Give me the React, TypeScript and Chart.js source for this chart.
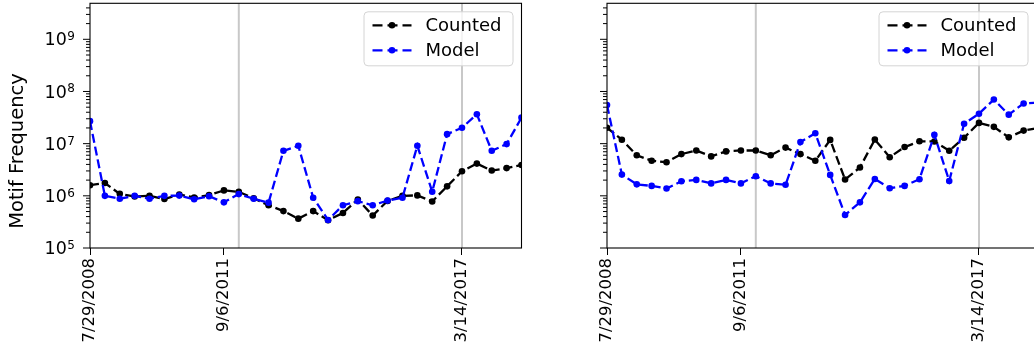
import React, { useEffect, useRef } from "react";
import { Chart, registerables } from "chart.js";

Chart.register(...registerables);

// ---- data ----
const xIndex = [0, 1, 2, 3, 4, 5, 6, 7, 8, 9, 10, 11, 12, 13, 14, 15, 16, 17, 18, 19, 20, 21, 22, 23, 24, 25, 26, 27, 28, 29];
const xTickValues = [0, 9, 25];
const xTickLabels = ["7/29/2008", "9/6/2011", "3/14/2017"];
const markerLines = [10, 25];
const yMin = 1e5;
const yMax = 4.9e9;
const seriesNames = ["Counted", "Model"];

const leftCounted = [1.6e6, 1.76e6, 1.09e6, 9.7e5, 1.0e6, 8.7e5, 1.06e6, 9.3e5, 1.03e6, 1.27e6, 1.19e6, 9.0e5, 6.6e5, 5.1e5, 3.65e5, 5.1e5, 3.4e5, 4.7e5, 8.5e5, 4.2e5, 8.0e5, 1.0e6, 1.02e6, 7.8e5, 1.52e6, 2.95e6, 4.15e6, 3.05e6, 3.4e6, 3.9e6];
const leftModel = [2.7e7, 1.0e6, 8.8e5, 1.0e6, 8.8e5, 1.0e6, 1.01e6, 8.6e5, 9.8e5, 7.5e5, 1.08e6, 8.8e5, 7.4e5, 7.3e6, 9.1e6, 9.2e5, 3.45e5, 6.6e5, 7.9e5, 6.6e5, 8.1e5, 9.2e5, 9.1e6, 1.2e6, 1.52e7, 2.02e7, 3.65e7, 7.3e6, 9.8e6, 3.15e7];
const rightCounted = [2.02e7, 1.19e7, 6.0e6, 4.7e6, 4.4e6, 6.3e6, 7.4e6, 5.7e6, 7.1e6, 7.4e6, 7.4e6, 6.0e6, 8.4e6, 6.3e6, 4.7e6, 1.18e7, 2.05e6, 3.5e6, 1.2e7, 5.5e6, 8.6e6, 1.11e7, 1.1e7, 7.3e6, 1.3e7, 2.5e7, 2.1e7, 1.32e7, 1.78e7, 2.0e7];
const rightModel = [5.5e7, 2.55e6, 1.66e6, 1.55e6, 1.38e6, 1.9e6, 2.02e6, 1.73e6, 2.02e6, 1.73e6, 2.38e6, 1.73e6, 1.63e6, 1.07e7, 1.58e7, 2.52e6, 4.3e5, 7.5e5, 2.1e6, 1.4e6, 1.55e6, 2.08e6, 1.48e7, 1.93e6, 2.4e7, 3.75e7, 7.0e7, 3.6e7, 5.9e7, 6.1e7];

const FONT = "'DejaVu Sans', 'Liberation Sans', sans-serif";
const CANVAS_W = 530;
const CANVAS_H = 354;
const PLOT_BOTTOM = 248;
const DASH = [9, 4];

const decorPlugin = {
  id: "decor",
  beforeDatasetsDraw(chart: any) {
    const { ctx, chartArea } = chart;
    const xs = chart.scales.x;
    ctx.save();
    ctx.strokeStyle = "#c8c8c8";
    ctx.lineWidth = 2;
    markerLines.forEach((v) => {
      const px = xs.getPixelForValue(v);
      ctx.beginPath();
      ctx.moveTo(px, chartArea.top);
      ctx.lineTo(px, chartArea.bottom);
      ctx.stroke();
    });
    ctx.restore();
  },
  afterDraw(chart: any, _args: any, opts: any) {
    const { ctx, chartArea } = chart;
    const ys = chart.scales.y;
    const { left, right, top, bottom } = chartArea;
    ctx.save();
    // axes box
    ctx.strokeStyle = "#000";
    ctx.lineWidth = 1.1;
    ctx.strokeRect(left, top, right - left, bottom - top);
    // y ticks (major + minor)
    ctx.lineWidth = 1;
    const eMin = Math.floor(Math.log10(ys.min));
    const eMax = Math.ceil(Math.log10(ys.max));
    for (let e = eMin; e <= eMax; e++) {
      for (let m = 1; m <= 9; m++) {
        const v = m * Math.pow(10, e);
        if (v < ys.min * 0.999 || v > ys.max * 1.001) continue;
        const py = ys.getPixelForValue(v);
        const len = m === 1 ? 7 : 4;
        ctx.beginPath();
        ctx.moveTo(left - len, py);
        ctx.lineTo(left, py);
        ctx.stroke();
        if (m === 1 && opts.showYLabels) {
          const expText = String(e);
          ctx.fillStyle = "#000";
          ctx.font = `12px ${FONT}`;
          const we = ctx.measureText(expText).width;
          const xEnd = left - 15;
          ctx.textAlign = "left";
          ctx.textBaseline = "alphabetic";
          ctx.fillText(expText, xEnd - we, py + 1);
          ctx.font = `17.5px ${FONT}`;
          ctx.textAlign = "right";
          ctx.textBaseline = "middle";
          ctx.fillText("10", xEnd - we - 0.5, py + 1.5);
        }
      }
    }
    // y title
    if (opts.title) {
      ctx.save();
      ctx.fillStyle = "#000";
      ctx.font = `19.5px ${FONT}`;
      ctx.textAlign = "center";
      ctx.textBaseline = "middle";
      ctx.translate(18, 151);
      ctx.rotate(-Math.PI / 2);
      ctx.fillText(opts.title, 0, 0);
      ctx.restore();
    }
    // legend
    const bw = 149;
    const bh = 54;
    const bx = right - opts.legendInset - bw;
    const by = top + 8;
    ctx.beginPath();
    if (ctx.roundRect) ctx.roundRect(bx + 0.5, by + 0.5, bw, bh, 4);
    else ctx.rect(bx + 0.5, by + 0.5, bw, bh);
    ctx.fillStyle = "rgba(255,255,255,0.8)";
    ctx.fill();
    ctx.strokeStyle = "#d4d4d4";
    ctx.lineWidth = 1;
    ctx.stroke();
    chart.data.datasets.forEach((ds: any, i: number) => {
      const cy = by + 14 + i * 25;
      const hx0 = bx + 9;
      const hx1 = bx + 48;
      ctx.strokeStyle = ds.borderColor;
      ctx.lineWidth = 2.2;
      ctx.setLineDash([10, 5]);
      ctx.beginPath();
      ctx.moveTo(hx0, cy);
      ctx.lineTo(hx1, cy);
      ctx.stroke();
      ctx.setLineDash([]);
      ctx.fillStyle = ds.borderColor;
      ctx.beginPath();
      ctx.arc((hx0 + hx1) / 2, cy, 3.3, 0, Math.PI * 2);
      ctx.fill();
      ctx.fillStyle = "#000";
      ctx.font = `18px ${FONT}`;
      ctx.textAlign = "left";
      ctx.textBaseline = "middle";
      ctx.fillText(ds.label, bx + 62, cy + 1);
    });
    ctx.restore();
  },
};

function makeConfig(counted: number[], model: number[], o: any): any {
  const mk = (label: string, vals: number[], color: string, order: number) => ({
    label,
    data: xIndex.map((x, i) => ({ x, y: vals[i] })),
    borderColor: color,
    backgroundColor: color,
    borderDash: DASH,
    borderWidth: 2.3,
    pointRadius: 3.3,
    pointBorderWidth: 0,
    pointHoverRadius: 3.3,
    pointBackgroundColor: color,
    tension: 0,
    order,
  });
  return {
    type: "line",
    data: {
      datasets: [
        mk(seriesNames[0], counted, "#000000", 1),
        mk(seriesNames[1], model, "#0000ff", 0),
      ],
    },
    plugins: [decorPlugin],
    options: {
      responsive: false,
      animation: false,
      events: [],
      layout: { padding: { top: 1.5, right: o.padRight, left: 0, bottom: 0 } },
      plugins: {
        legend: { display: false },
        tooltip: { enabled: false },
        decor: { showYLabels: o.showYLabels, title: o.title, legendInset: o.legendInset },
      },
      scales: {
        x: {
          type: "linear",
          min: 0,
          max: 29,
          afterBuildTicks: (s: any) => {
            s.ticks = xTickValues.map((v) => ({ value: v }));
          },
          afterFit: (s: any) => {
            s.height = CANVAS_H - PLOT_BOTTOM;
          },
          ticks: {
            autoSkip: false,
            maxRotation: 90,
            minRotation: 90,
            padding: 3,
            color: "#000",
            font: { family: FONT, size: 16.5 },
            callback: (v: any) => {
              const k = xTickValues.indexOf(Number(v));
              return k >= 0 ? xTickLabels[k] : "";
            },
          },
          grid: { drawOnChartArea: false, drawTicks: true, tickLength: 7, tickColor: "#000", color: "#000", tickWidth: 1 },
          border: { display: false },
        },
        y: {
          type: "logarithmic",
          min: yMin,
          max: yMax,
          afterFit: (s: any) => {
            s.width = o.axisWidth;
          },
          ticks: { display: false },
          grid: { display: false },
          border: { display: false },
        },
      },
    },
  };
}

export default function App() {
  const leftRef = useRef<HTMLCanvasElement>(null);
  const rightRef = useRef<HTMLCanvasElement>(null);
  useEffect(() => {
    const c1 = new Chart(leftRef.current as HTMLCanvasElement, makeConfig(leftCounted, leftModel, {
      padRight: 8.5, axisWidth: 90, showYLabels: true, title: "Motif Frequency", legendInset: 9,
    }));
    const c2 = new Chart(rightRef.current as HTMLCanvasElement, makeConfig(rightCounted, rightModel, {
      padRight: 11.5, axisWidth: 87, showYLabels: false, title: "", legendInset: 11,
    }));
    return () => {
      c1.destroy();
      c2.destroy();
    };
  }, []);
  return (
    <div style={{ position: "fixed", left: 0, top: 0, width: 1034, height: 354, overflow: "hidden", background: "#fff" }}>
      <canvas ref={leftRef} width={CANVAS_W} height={CANVAS_H} style={{ position: "absolute", left: 0, top: 0 }} />
      <canvas ref={rightRef} width={CANVAS_W} height={CANVAS_H} style={{ position: "absolute", left: 520, top: 0 }} />
    </div>
  );
}
